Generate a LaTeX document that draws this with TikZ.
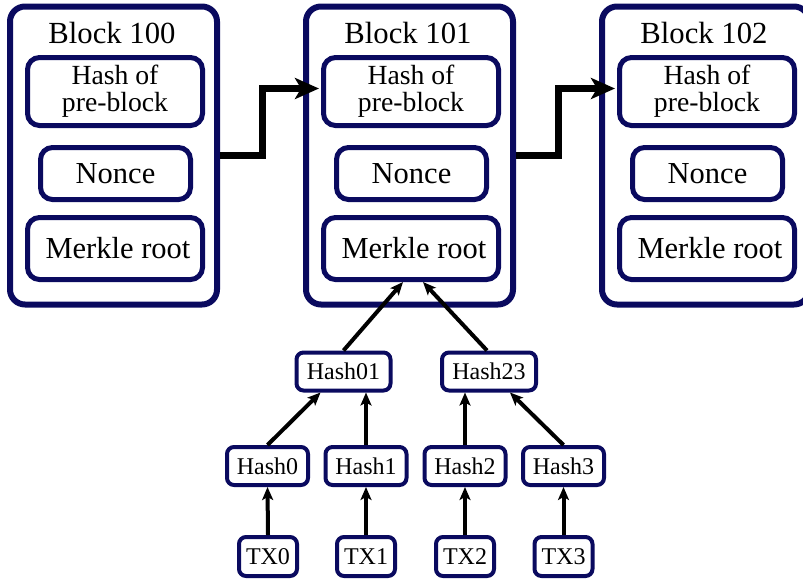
\documentclass[tikz,border=0pt]{standalone}
\usepackage{fontspec}
\setmainfont{Liberation Serif}
\usetikzlibrary{arrows.meta,calc}
\definecolor{navyline}{RGB}{10,10,95}
\tikzset{
  blockbox/.style={draw=navyline,line width=6pt,rounded corners=15pt,minimum width=207pt,minimum height=298pt,inner sep=0pt},
  fieldbox/.style={draw=navyline,line width=5pt,rounded corners=12pt,inner sep=0pt,align=center,font=\fontsize{30.5}{27}\selectfont},
  treebox/.style={draw=navyline,line width=4pt,rounded corners=7pt,inner sep=0pt,minimum height=38pt,font=\fontsize{24}{26}\selectfont},
  titletext/.style={inner sep=0pt,anchor=base,font=\fontsize{30.7}{32}\selectfont},
  chainarrow/.style={line width=7pt,-{Stealth[length=24pt,width=21pt,inset=6pt]}},
  treearrow/.style={line width=4pt,-{Stealth[length=13pt,width=11pt,inset=3pt]}}
}
\begin{document}
\begin{tikzpicture}[x=1pt,y=-1pt]
\useasboundingbox (0,0) rectangle (803,579);
\clip (0,0) rectangle (803,579);
\foreach \i/\num in {0/100,1/101,2/102}{
  \begin{scope}[xshift=\i*296pt]
    \node[blockbox] (b\i) at (113.5,155.5) {};
    \node[titletext] (t\i) at (112,43) {Block \num};
    \node[fieldbox,minimum width=175pt,minimum height=68pt,font=\fontsize{27.7}{27}\selectfont] (hp\i) at (115,91.5) {Hash of\\pre-block};
    \node[fieldbox,minimum width=150pt,minimum height=52pt] (n\i) at (115.5,173.5) {Nonce};
    \node[fieldbox,minimum width=175pt,minimum height=62pt] (m\i) at (115,248.5) {\hspace*{6pt}Merkle root};
  \end{scope}
}
\draw[chainarrow] (b0.east) -- ++(42,0) |- ($(hp1.west)+(-2,-3)$);
\draw[chainarrow] (b1.east) -- ++(42,0) |- ($(hp2.west)+(-2,-3)$);

\node[treebox,minimum width=94pt] (h01) at (343.5,371.5) {Hash01};
\node[treebox,minimum width=94pt] (h23) at (489,371.5) {Hash23};
\node[treebox,minimum width=81pt] (h0) at (267.5,466) {Hash0};
\node[treebox,minimum width=81pt] (h1) at (366,466) {Hash1};
\node[treebox,minimum width=81pt] (h2) at (465,466) {Hash2};
\node[treebox,minimum width=81pt] (h3) at (563.5,466) {Hash3};
\node[treebox,minimum width=58pt,minimum height=39pt] (x0) at (268,556.5) {TX0};
\node[treebox,minimum width=58pt,minimum height=39pt] (x1) at (366,556.5) {TX1};
\node[treebox,minimum width=58pt,minimum height=39pt] (x2) at (465,556.5) {TX2};
\node[treebox,minimum width=58pt,minimum height=39pt] (x3) at (563.5,556.5) {TX3};

\draw[treearrow] (h01.north) -- ($(m1.south)+(-8,0)$);
\draw[treearrow] ($(h23.north)+(-2,0)$) -- ($(m1.south)+(12,0)$);
\draw[treearrow] (h0.north) -- ($(h01.south)+(-23,0)$);
\draw[treearrow] (h1.north) -- (h1.north |- h01.south);
\draw[treearrow] (h2.north) -- (h2.north |- h23.south);
\draw[treearrow] (h3.north) -- ($(h23.south)+(21,0)$);
\foreach \k in {0,1,2,3}{
  \draw[treearrow] (x\k.north) -- (h\k.south);
}
\end{tikzpicture}
\end{document}
